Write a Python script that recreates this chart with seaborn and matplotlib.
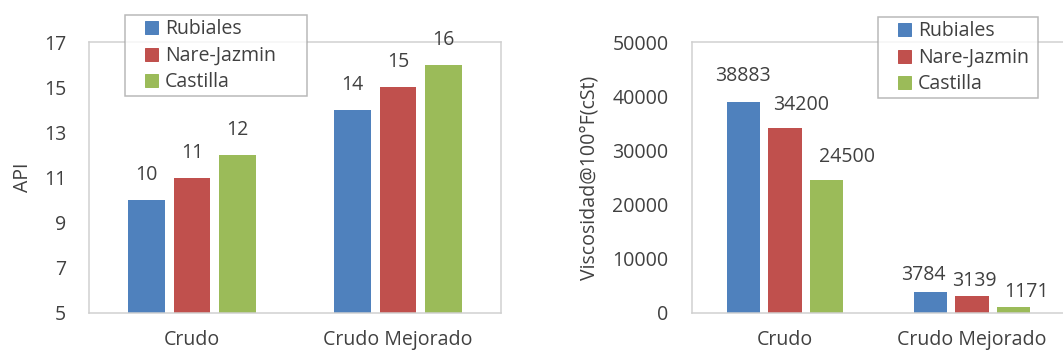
import numpy as np
import pandas as pd
import seaborn as sns
import matplotlib.pyplot as plt
from matplotlib.lines import Line2D

sns.set_style("white")
plt.rcParams['font.family'] = ['Open Sans', 'DejaVu Sans']

categorias = ["Crudo", "Crudo Mejorado"]
crudos = ["Rubiales", "Nare-Jazmin", "Castilla"]
api = {"Rubiales": [10, 14], "Nare-Jazmin": [11, 15], "Castilla": [12, 16]}
visc = {"Rubiales": [38883, 3784], "Nare-Jazmin": [34200, 3139], "Castilla": [24500, 1171]}
colores = ["#4F81BD", "#C0504D", "#9BBB59"]

def to_long(d):
    rows = []
    for c in crudos:
        for cat, v in zip(categorias, d[c]):
            rows.append({"cat": cat, "crudo": c, "val": v})
    return pd.DataFrame(rows)

W, H = 1063, 355
fig = plt.figure(figsize=(W / 72, H / 72), dpi=72)
ax1 = fig.add_axes([89 / W, 1 - 313 / H, 412 / W, 271 / H])
ax2 = fig.add_axes([691.5 / W, 1 - 313 / H, 374 / W, 271 / H])

txt = "#404040"
spine_c = "#d0d0d0"
fs = 19.5

for ax, d in [(ax1, api), (ax2, visc)]:
    sns.barplot(data=to_long(d), x="cat", y="val", hue="crudo", palette=colores,
                saturation=1, width=0.665, gap=0.2, linewidth=0, legend=False, ax=ax)
    ax.set_xlabel("")
    for s in ax.spines.values():
        s.set_color(spine_c)
        s.set_linewidth(1.5)
    ax.tick_params(axis="y", direction="in", length=6, color=spine_c, pad=23,
                   labelsize=fs, labelcolor=txt)
    ax.tick_params(axis="x", length=0, pad=17, labelsize=fs, labelcolor=txt)
    ax.set_xlim(-0.5, 1.5)

ax1.set_ylim(5, 17)
ax1.set_yticks(np.arange(5, 18, 2))
ax1.set_ylabel("API", fontsize=fs, color=txt)
ax1.yaxis.set_label_coords(-0.135, 0.5)

ax2.set_ylim(0, 50000)
ax2.set_yticks(np.arange(0, 50001, 10000))
ax2.set_ylabel("Viscosidad@100°F(cSt)", fontsize=fs, color=txt)
ax2.yaxis.set_label_coords(-0.245, 0.5)
ax2.spines["right"].set_visible(False)

# label offsets (px) per bar, in container order
off1 = [[(0, 25), (0, 25)], [(0, 25), (0, 25)], [(0, 25), (0, 25)]]
off2 = [[(-1, 26), (-7, 17)], [(16, 23), (2, 15)], [(21, 23), (13, 15)]]
for ax, offs in [(ax1, off1), (ax2, off2)]:
    for cont, o in zip(ax.containers, offs):
        for p, (dx, dy) in zip(cont.patches, o):
            ax.annotate(f"{p.get_height():.0f}", (p.get_x() + p.get_width() / 2, p.get_height()),
                        xytext=(dx, dy), textcoords="offset points", ha="center", va="center",
                        fontsize=fs, color=txt, annotation_clip=False)

handles = [Line2D([], [], marker="s", linestyle="", markersize=13, color=c) for c in colores]
for bx in [(125, 15, 182, 82), (878, 17, 160, 88)]:
    x, y, w, h = bx
    leg = fig.legend(handles, crudos, loc="upper left",
                     bbox_to_anchor=(x / W, 1 - (y + h) / H, w / W, h / H),
                     mode="expand", fontsize=fs, frameon=True, fancybox=False,
                     borderpad=0.2, handlelength=2.3, handletextpad=-0.45,
                     labelspacing=0.33, borderaxespad=0, labelcolor=txt)
    leg.get_frame().set_edgecolor("#a6a6a6")
    leg.get_frame().set_linewidth(1.5)

fig.savefig("out.png", dpi=72)
